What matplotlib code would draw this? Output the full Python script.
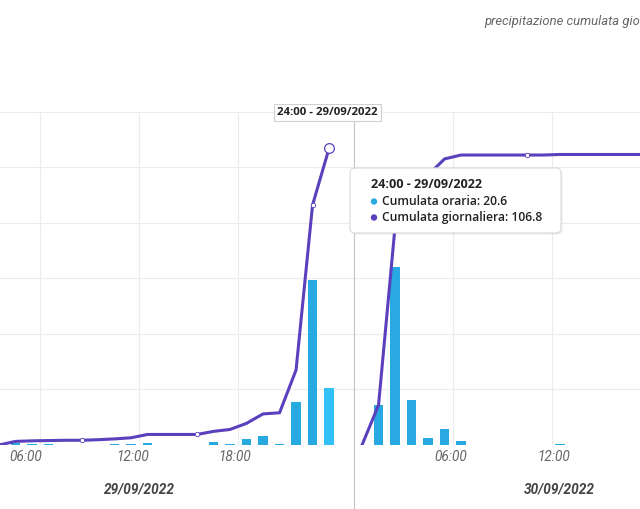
"""Cumulata oraria (bars) and cumulata giornaliera (line), 29-30/09/2022."""

import matplotlib
matplotlib.use("Agg")
import matplotlib.pyplot as plt
from matplotlib.patches import FancyBboxPatch, Circle

# Hourly rain (mm) for each hour ending at h = 1..24 on 29/09
ORARIA_29 = [0, 0, 0, 0, 0.6, 0.2, 0.2, 0, 0, 0, 0.2, 0.2,
             0.8, 0, 0, 0, 1.2, 0.4, 2.0, 3.2, 0.4, 15.4, 59.4, 20.6]
GIORNALIERA_29 = [0, 0, 0, 0, 1.3, 1.5, 1.6, 1.7, 1.7, 1.9, 2.2, 2.6,
                  3.8, 3.8, 3.8, 3.8, 4.9, 5.6, 7.8, 11.2, 11.6, 27.0, 86.4, 106.8]

# Hourly rain for hours ending at h = 1..18 on 30/09
ORARIA_30 = [0, 14.4, 64.2, 16.2, 2.4, 5.8, 1.4, 0, 0, 0, 0, 0,
             0.2, 0, 0, 0, 0, 0]
GIORNALIERA_30 = [0, 14.4, 78.6, 94.8, 97.2, 103.0, 104.4, 104.4, 104.4, 104.4,
                  104.4, 104.4, 104.6, 104.6, 104.6, 104.6, 104.6, 104.6]

DAYS = ["29/09/2022", "30/09/2022"]
DAY_START = [0, 25]          # axis offset (hours) of each day
TICK_HOURS = [[6, 12, 18], [6, 12]]
TICK_LABELS = [["06:00", "12:00", "18:00"], ["06:00", "12:00"]]
DOT_POINTS = [(0, 9), (0, 16), (0, 23), (1, 11)]   # small white markers (day, hour)
HOVER = (0, 24)

BAR = "#29a9e1"
BAR_HOVER = "#31c1f6"
LINE = "#5a40bd"
GRID = "#ececec"

W, H = 640, 509


def inch(px, py):
    return px / 100, (H - py) / 100


plt.rcParams["font.family"] = ["Roboto", "DejaVu Sans"]
fig = plt.figure(figsize=(W / 100, H / 100), dpi=100)
ax = fig.add_axes([0, 1 - 445 / H, 1, (445 - 111.7) / H])

series = [(ORARIA_29, GIORNALIERA_29), (ORARIA_30, GIORNALIERA_30)]
for d, (oraria, giorn) in enumerate(series):
    xs = [DAY_START[d] + h - 0.5 for h in range(1, len(oraria) + 1)]
    colors = [BAR_HOVER if (d, h) == HOVER else BAR for h in range(1, len(oraria) + 1)]
    ax.bar(xs, oraria, width=0.56, color=colors, zorder=2)
    ax.plot(xs, giorn, color=LINE, lw=2.2, zorder=3, solid_joinstyle="round")
    for dd, h in DOT_POINTS:
        if dd == d:
            ax.plot(xs[h - 1], giorn[h - 1], "o", ms=3.2, mfc="white",
                    mec=LINE, mew=0.6, zorder=4)
    if HOVER[0] == d:
        h = HOVER[1]
        ax.plot(xs[h - 1], giorn[h - 1], "o", ms=7, mfc="white",
                mec=LINE, mew=0.9, zorder=5, clip_on=False)

grid_x = [DAY_START[d] + t for d in range(2) for t in TICK_HOURS[d]]
ax.set_xticks(grid_x)
ax.set_xticklabels([])
ax.set_yticks(range(0, 121, 20))
ax.set_yticklabels([])
ax.tick_params(length=0)
ax.grid(True, color=GRID, lw=0.8, zorder=0)
ax.set_axisbelow(True)
for s in ax.spines.values():
    s.set_visible(False)
ax.set_xlim(3.558, 42.345)
ax.set_ylim(0, 120)

# day separator
ax.axvline(DAY_START[1], ymin=-0.2, ymax=1, clip_on=False, color="#c4c4c4", lw=0.8, zorder=1)

# x labels
label_shift = [[-0.9, -0.4, -0.2], [-0.1, 0.1]]
tr = ax.get_xaxis_transform()
for d in range(2):
    for i, (t, lab) in enumerate(zip(TICK_HOURS[d], TICK_LABELS[d])):
        ax.text(DAY_START[d] + t + label_shift[d][i], -0.035, lab, transform=tr,
                ha="center", va="center", fontsize=9.8, style="italic",
                color="#666666", clip_on=False)
    ax.text(DAY_START[d] + 12 + (0.0 if d == 0 else 0.45), -0.135, DAYS[d],
            transform=tr, ha="center", va="center", fontsize=9.8,
            style="italic", weight="bold", color="#444444", clip_on=False)

# legend text at the top (only its visible part)
fig.text(484 / W, 1 - 21 / H, "precipitazione cumulata gio", ha="left",
         va="center", fontsize=9.4, style="italic", color="#666666")

# crosshair label
x, y = inch(327.5, 112.5)
fig.text(x, y, "24:00 - 29/09/2022", transform=fig.dpi_scale_trans, ha="center",
         va="center", fontsize=8.2, weight="bold", color="#222222",
         family=["Open Sans", "DejaVu Sans"],
         bbox=dict(boxstyle="square,pad=0.3", fc="white", ec="#d0d0d0", lw=0.8))

# tooltip
x0, y0 = inch(350, 233)
shadow = FancyBboxPatch((x0 + 0.015, y0 - 0.015), 2.11, 0.65,
                        boxstyle="round,pad=0,rounding_size=0.05",
                        transform=fig.dpi_scale_trans, fc="#00000012", ec="none")
box = FancyBboxPatch((x0, y0), 2.11, 0.65,
                     boxstyle="round,pad=0,rounding_size=0.05",
                     transform=fig.dpi_scale_trans, fc="white", ec="#dcdcdc", lw=0.9)
fig.add_artist(shadow)
fig.add_artist(box)
tip_font = dict(transform=fig.dpi_scale_trans, va="center", fontsize=8.7,
                weight="semibold", color="#222222", family=["Open Sans", "DejaVu Sans"])
tx, ty = inch(371, 184)
fig.text(tx, ty, "24:00 - 29/09/2022", **dict(tip_font, fontsize=9.1, weight="bold"))
rows = [("Cumulata oraria: 20.6", BAR, 201.5), ("Cumulata giornaliera: 106.8", LINE, 217.5)]
for txt, col, py in rows:
    bx, by = inch(374, py)
    fig.add_artist(Circle((bx, by), 0.032, transform=fig.dpi_scale_trans, fc=col, ec="none"))
    lx, ly = inch(381.5, py)
    fig.text(lx, ly, txt, **tip_font)

fig.savefig("out.png", dpi=100)
